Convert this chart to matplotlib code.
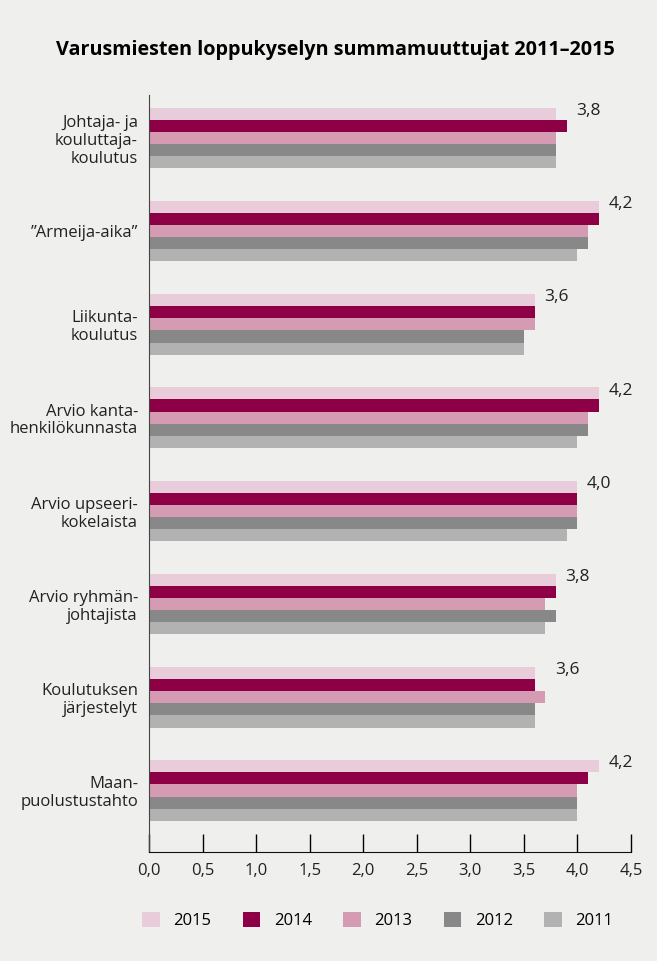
import numpy as np
import matplotlib
matplotlib.use("Agg")
import matplotlib.pyplot as plt

plt.rcParams['font.family'] = ['Open Sans', 'DejaVu Sans']

categories = [
    "Johtaja- ja\nkouluttaja-\nkoulutus",
    "\u201dArmeija-aika\u201d",
    "Liikunta-\nkoulutus",
    "Arvio kanta-\nhenkilökunnasta",
    "Arvio upseeri-\nkokelaista",
    "Arvio ryhmän-\njohtajista",
    "Koulutuksen\njärjestelyt",
    "Maan-\npuolustustahto",
]
years = ["2015", "2014", "2013", "2012", "2011"]
v2015 = [3.8, 4.2, 3.6, 4.2, 4.0, 3.8, 3.6, 4.2]
v2014 = [3.9, 4.2, 3.6, 4.2, 4.0, 3.8, 3.6, 4.1]
v2013 = [3.8, 4.1, 3.6, 4.1, 4.0, 3.7, 3.7, 4.0]
v2012 = [3.8, 4.1, 3.5, 4.1, 4.0, 3.8, 3.6, 4.0]
v2011 = [3.8, 4.0, 3.5, 4.0, 3.9, 3.7, 3.6, 4.0]
series = [v2015, v2014, v2013, v2012, v2011]
colors = ["#e8ccd9", "#8d0046", "#d49bb3", "#888888", "#b2b2b2"]

bg = "#efefed"
fig = plt.figure(figsize=(6.57, 9.61), dpi=100, facecolor=bg)
ax = fig.add_axes([0.2268, 0.1134, 0.7336, 0.7877], facecolor=bg)

y = np.arange(len(categories))
h = 0.13
for k, (vals, col, yr) in enumerate(zip(series, colors, years)):
    ax.barh(y + (k - 2) * h, vals, height=h, color=col, label=yr, linewidth=0)

for i, v in enumerate(v2015):
    top = max(s[i] for s in series)
    ax.text(top + 0.09, y[i] - 2 * h - 0.03, f"{v:.1f}".replace(".", ","),
            ha="left", va="center", fontsize=12.5, color="#222222")

ax.set_xlim(0, 4.5)
ax.set_ylim(len(categories) - 1 + 0.66, -0.46)
ax.set_xticks(np.arange(0, 4.51, 0.5))
ax.set_xticklabels([f"{t:.1f}".replace(".", ",") for t in np.arange(0, 4.51, 0.5)],
                   fontsize=12, color="#222222")
ax.tick_params(axis="x", direction="in", length=13, width=1, pad=8)
ax.set_yticks(y)
ax.set_yticklabels(categories, fontsize=12, color="#222222", linespacing=1.15)
ax.tick_params(axis="y", length=0, pad=8)
for s in ["top", "right"]:
    ax.spines[s].set_visible(False)
ax.spines["left"].set_color("#444444")
ax.spines["bottom"].set_color("#111111")

fig.text(0.51, 0.948, "Varusmiesten loppukyselyn summamuuttujat 2011\u20132015",
         ha="center", va="center", fontsize=14.2, fontweight="bold")

fig.legend(loc="center", bbox_to_anchor=(0.575, 0.042), ncol=5, frameon=False,
           fontsize=12, handlelength=1.05, handleheight=1.05, columnspacing=1.9,
           handletextpad=0.8)

fig.savefig("out.png", dpi=100, facecolor=bg)
